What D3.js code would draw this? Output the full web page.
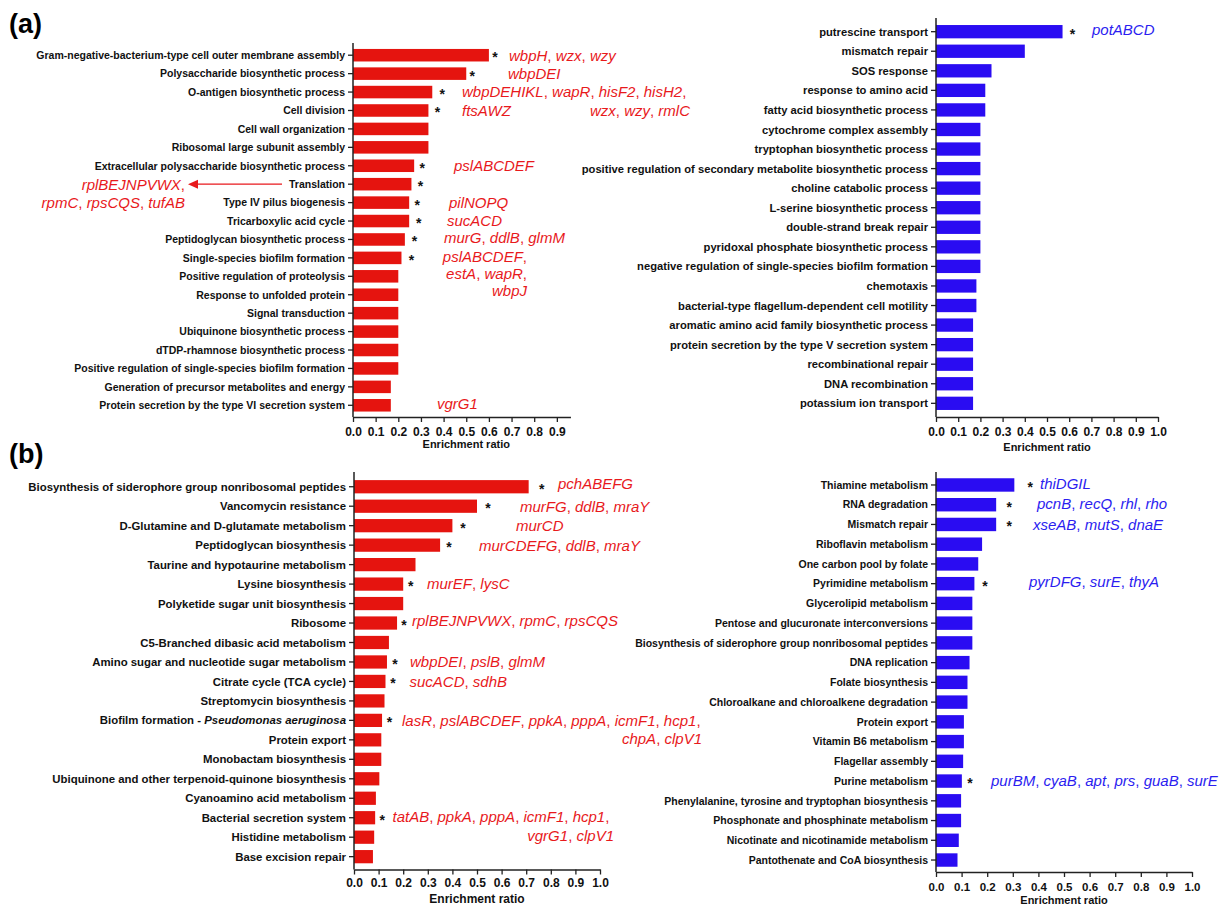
<!DOCTYPE html>
<html>
<head>
<meta charset="utf-8">
<script src="https://cdn.jsdelivr.net/npm/d3@7"></script>
<style>
  body { margin: 0; background: #fff; }
  svg { display: block; }
  .cat, .tick text, .xtitle { font-family: "Liberation Sans Narrow", "Arial Narrow", "Liberation Sans", Arial, sans-serif; font-weight: bold; fill: #111; }
  .gene { font-family: "Liberation Sans", Arial, sans-serif; font-size: 15px; }
  .star { font-family: "Liberation Sans", Arial, sans-serif; font-weight: bold; font-size: 14px; fill: #111; }
  .plab { font-family: "Liberation Sans", Arial, sans-serif; font-weight: bold; font-size: 27px; fill: #000; }
</style>
</head>
<body>
<svg id="chart" width="1230" height="907"></svg>
<script>
// ---- data ----

// (a) GO terms, red
var tlCats = ["Gram-negative-bacterium-type cell outer membrane assembly", "Polysaccharide biosynthetic process",
  "O-antigen biosynthetic process", "Cell division", "Cell wall organization", "Ribosomal large subunit assembly",
  "Extracellular polysaccharide biosynthetic process", "Translation", "Type IV pilus biogenesis",
  "Tricarboxylic acid cycle", "Peptidoglycan biosynthetic process", "Single-species biofilm formation",
  "Positive regulation of proteolysis", "Response to unfolded protein", "Signal transduction",
  "Ubiquinone biosynthetic process", "dTDP-rhamnose biosynthetic process",
  "Positive regulation of single-species biofilm formation", "Generation of precursor metabolites and energy",
  "Protein secretion by the type VI secretion system"];
var tlVals = [0.6, 0.5, 0.35, 0.333, 0.333, 0.333, 0.27, 0.258, 0.248, 0.248, 0.229, 0.214,
  0.2, 0.2, 0.2, 0.2, 0.2, 0.2, 0.167, 0.167];
var tlStar = [1,1,1,1,0,0,1,1,1,1,1,1,0,0,0,0,0,0,0,0];

// (a) GO terms, blue
var trCats = ["putrescine transport", "mismatch repair", "SOS response", "response to amino acid",
  "fatty acid biosynthetic process", "cytochrome complex assembly", "tryptophan biosynthetic process",
  "positive regulation of secondary metabolite biosynthetic process", "choline catabolic process",
  "L-serine biosynthetic process", "double-strand break repair", "pyridoxal phosphate biosynthetic process",
  "negative regulation of single-species biofilm formation", "chemotaxis",
  "bacterial-type flagellum-dependent cell motility", "aromatic amino acid family biosynthetic process",
  "protein secretion by the type V secretion system", "recombinational repair", "DNA recombination",
  "potassium ion transport"];
var trVals = [0.57, 0.4, 0.25, 0.222, 0.222, 0.2, 0.2, 0.2, 0.2, 0.2, 0.2, 0.2, 0.2,
  0.182, 0.182, 0.167, 0.167, 0.167, 0.167, 0.167];
var trStar = [1,0,0,0,0,0,0,0,0,0,0,0,0,0,0,0,0,0,0,0];

// (b) KEGG pathways, red
var blCats = ["Biosynthesis of siderophore group nonribosomal peptides", "Vancomycin resistance",
  "D-Glutamine and D-glutamate metabolism", "Peptidoglycan biosynthesis", "Taurine and hypotaurine metabolism",
  "Lysine biosynthesis", "Polyketide sugar unit biosynthesis", "Ribosome", "C5-Branched dibasic acid metabolism",
  "Amino sugar and nucleotide sugar metabolism", "Citrate cycle (TCA cycle)", "Streptomycin biosynthesis",
  "Biofilm formation - Pseudomonas aeruginosa", "Protein export", "Monobactam biosynthesis",
  "Ubiquinone and other terpenoid-quinone biosynthesis", "Cyanoamino acid metabolism",
  "Bacterial secretion system", "Histidine metabolism", "Base excision repair"];
var blVals = [0.71, 0.5, 0.4, 0.35, 0.25, 0.2, 0.2, 0.175, 0.142, 0.134, 0.128, 0.124, 0.114,
  0.111, 0.111, 0.103, 0.089, 0.086, 0.082, 0.077];
var blStar = [1,1,1,1,0,1,0,1,0,1,1,0,1,0,0,0,0,1,0,0];

// (b) KEGG pathways, blue
var brCats = ["Thiamine metabolism", "RNA degradation", "Mismatch repair", "Riboflavin metabolism",
  "One carbon pool by folate", "Pyrimidine metabolism", "Glycerolipid metabolism",
  "Pentose and glucuronate interconversions", "Biosynthesis of siderophore group nonribosomal peptides",
  "DNA replication", "Folate biosynthesis", "Chloroalkane and chloroalkene degradation", "Protein export",
  "Vitamin B6 metabolism", "Flagellar assembly", "Purine metabolism",
  "Phenylalanine, tyrosine and tryptophan biosynthesis", "Phosphonate and phosphinate metabolism",
  "Nicotinate and nicotinamide metabolism", "Pantothenate and CoA biosynthesis"];
var brVals = [0.306, 0.235, 0.235, 0.18, 0.165, 0.15, 0.142, 0.142, 0.142, 0.131, 0.123, 0.123,
  0.109, 0.109, 0.106, 0.101, 0.098, 0.098, 0.089, 0.084];
var brStar = [1,1,1,0,0,1,0,0,0,0,0,0,0,0,0,1,0,0,0,0];

// genes per row: [row, text]
var tlGenes = [[0, "wbpH, wzx, wzy"], [1, "wbpDEI"], [2, "wbpDEHIKL, wapR, hisF2, hisH2,"], [3, "wzx, wzy, rmlC"],
  [3, "ftsAWZ"], [6, "pslABCDEF"], [7, "rplBEJNPVWX,"], [8, "rpmC, rpsCQS, tufAB"], [8, "pilNOPQ"],
  [9, "sucACD"], [10, "murG, ddlB, glmM"], [11, "pslABCDEF,"], [11, "estA, wapR,"], [11, "wbpJ"], [19, "vgrG1"]];
var trGenes = [[0, "potABCD"]];
var blGenes = [[0, "pchABEFG"], [1, "murFG, ddlB, mraY"], [2, "murCD"], [3, "murCDEFG, ddlB, mraY"],
  [5, "murEF, lysC"], [7, "rplBEJNPVWX, rpmC, rpsCQS"], [9, "wbpDEI, pslB, glmM"], [10, "sucACD, sdhB"],
  [12, "lasR, pslABCDEF, ppkA, pppA, icmF1, hcp1,"], [13, "chpA, clpV1"],
  [17, "tatAB, ppkA, pppA, icmF1, hcp1,"], [18, "vgrG1, clpV1"]];
var brGenes = [[0, "thiDGIL"], [1, "pcnB, recQ, rhl, rho"], [2, "xseAB, mutS, dnaE"],
  [5, "pyrDFG, surE, thyA"], [15, "purBM, cyaB, apt, prs, guaB, surE"]];

// ---- layout ----
var red = "#e5140f", blue = "#2a0cf2";
var redText = "#e8191c", blueText = "#2b1df0";

// gap from bar end to asterisk centre, per row
var tlStarDx = [6,6,10,9,0,0,8,9,8,9.5,9.5,10,0,0,0,0,0,0,0,0];
var trStarDx = [10];
var blStarDx = [13,11,10.5,9,0,7.5,0,7,0,8,7.5,0,7.5,0,0,0,0,7,0,0];
var brStarDx = [16,13,13,0,0,10.5,0,0,0,0,0,0,0,0,0,8,0,0,0,0];

// gene label placement: [x, dy, anchor] matching the gene lists
var tlGenePos = [[509,0,"start"],[508,0,"start"],[462,0,"start"],[690,0,"end"],[462,0,"start"],[454,0,"start"],
  [185,0,"end"],[185,0,"end"],[449,0,"start"],[447,0,"start"],[444,-2,"start"],[527,-1,"end"],[527,15.5,"end"],
  [527,33,"end"],[437,-2,"start"]];
var trGenePos = [[1092,-2,"start"]];
var blGenePos = [[558,-3,"start"],[520,0,"start"],[516,0,"start"],[479,0,"start"],[427,0,"start"],[412,-2,"start"],
  [410,0,"start"],[409.5,0,"start"],[402,0,"start"],[702,-1,"end"],[392.5,-1,"start"],[614,-2,"end"]];
var brGenePos = [[1040,-1,"start"],[1037,-1,"start"],[1033,0,"start"],[1029,-2,"start"],[991,0,"start"]];

var svg = d3.select("#chart");

function geneText(g, str) {
  str.split(/(,\s*)/).forEach(function(part) {
    if (!part) return;
    var t = g.append("tspan").text(part);
    if (!/^,/.test(part)) t.attr("font-style", "italic");
  });
}

function drawPanel(p) {
  var g = svg.append("g");
  var x = d3.scaleLinear().domain([0, p.max]).range([p.x0, p.x0 + p.max * p.unit]);
  var y = d3.scaleBand().domain(p.cats).range([p.bandTop, p.bandBot]).paddingInner(0.32).paddingOuter(0.16);

  g.selectAll("rect.bar").data(p.vals).enter().append("rect")
    .attr("class", "bar")
    .attr("x", x(0))
    .attr("y", function(d, i) { return y(p.cats[i]); })
    .attr("width", function(d) { return x(d) - x(0); })
    .attr("height", y.bandwidth())
    .attr("fill", p.color);

  // category labels + ticks
  var mid = function(i) { return y(p.cats[i]) + y.bandwidth() / 2; };
  p.cats.forEach(function(c, i) {
    g.append("line").attr("x1", p.x0 - 5).attr("x2", p.x0).attr("y1", mid(i)).attr("y2", mid(i))
      .attr("stroke", "#222").attr("stroke-width", 1.3);
    var t = g.append("text").attr("class", "cat").attr("x", p.x0 - 8).attr("y", mid(i)).attr("dy", "0.36em")
      .attr("text-anchor", "end").style("font-size", p.font + "px");
    var m = c.match(/^(.*- )(Pseudomonas aeruginosa)$/);
    if (m) {
      t.append("tspan").text(m[1]);
      t.append("tspan").attr("font-style", "italic").text(m[2]);
    } else {
      t.text(c);
    }
  });

  // y axis line
  g.append("line").attr("x1", p.x0).attr("x2", p.x0).attr("y1", p.yTop).attr("y2", p.xAxisY)
    .attr("stroke", "#222").attr("stroke-width", 1.5);

  // x axis
  var ticks = d3.range(0, Math.round(p.tickMax * 10) + 1).map(function(k) { return k / 10; });
  var ax = g.append("g").attr("transform", "translate(0," + p.xAxisY + ")")
    .call(d3.axisBottom(x).tickValues(ticks).tickFormat(d3.format(".1f")).tickSize(5).tickSizeOuter(0));
  ax.select(".domain").attr("stroke", "#222").attr("stroke-width", 1.5);
  ax.selectAll(".tick line").attr("stroke", "#222").attr("stroke-width", 1.3);
  ax.selectAll(".tick text").attr("y", p.tickDy).attr("dy", null).style("font-size", p.tickFont + "px");

  g.append("text").attr("class", "xtitle").attr("x", x(p.titleAt)).attr("y", p.titleY)
    .attr("text-anchor", "middle").style("font-size", p.titleFont + "px").text("Enrichment ratio");

  // significance asterisks
  p.stars.forEach(function(s, i) {
    if (!s) return;
    g.append("text").attr("class", "star").attr("x", x(p.vals[i]) + p.starDx[i]).attr("y", mid(i) + 7)
      .attr("text-anchor", "middle").text("*");
  });

  // gene names
  p.genes.forEach(function(gn, k) {
    var pos = p.genePos[k];
    var t = g.append("text").attr("class", "gene").attr("x", pos[0]).attr("y", mid(gn[0]) + pos[1])
      .attr("dy", "0.36em").attr("text-anchor", pos[2]).attr("fill", p.textColor);
    geneText(t, gn[1]);
  });
  return { x: x, y: y, mid: mid };
}

var tl = drawPanel({ cats: tlCats, vals: tlVals, stars: tlStar, starDx: tlStarDx, genes: tlGenes, genePos: tlGenePos,
  color: red, textColor: redText, x0: 353, unit: 226.5, max: 0.96, tickMax: 0.9, yTop: 43, bandTop: 46, bandBot: 414.5,
  xAxisY: 417, tickDy: 18.5, titleAt: 0.5, titleY: 448, font: 10.5, tickFont: 12, titleFont: 11 });

drawPanel({ cats: trCats, vals: trVals, stars: trStar, starDx: trStarDx, genes: trGenes, genePos: trGenePos,
  color: blue, textColor: blueText, x0: 936, unit: 222, max: 1.0, tickMax: 1.0, yTop: 18, bandTop: 21.9, bandBot: 413.1,
  xAxisY: 417, tickDy: 18.5, titleAt: 0.5, titleY: 450.5, font: 11.2, tickFont: 12, titleFont: 11 });

drawPanel({ cats: blCats, vals: blVals, stars: blStar, starDx: blStarDx, genes: blGenes, genePos: blGenePos,
  color: red, textColor: redText, x0: 354, unit: 246, max: 1.0, tickMax: 1.0, yTop: 472, bandTop: 477, bandBot: 866.4,
  xAxisY: 869.5, tickDy: 17, titleAt: 0.5, titleY: 903, font: 11.4, tickFont: 12, titleFont: 12 });

drawPanel({ cats: brCats, vals: brVals, stars: brStar, starDx: brStarDx, genes: brGenes, genePos: brGenePos,
  color: blue, textColor: blueText, x0: 936, unit: 256, max: 1.0, tickMax: 1.0, yTop: 472, bandTop: 475.1, bandBot: 869.9,
  xAxisY: 872, tickDy: 19, titleAt: 0.5, titleY: 904, font: 10.5, tickFont: 11.5, titleFont: 11 });

// arrow from "Translation" to its gene list
var ay = tl.mid(7);
svg.append("line").attr("x1", 282).attr("x2", 196).attr("y1", ay).attr("y2", ay)
  .attr("stroke", redText).attr("stroke-width", 1.3);
svg.append("path").attr("d", "M188," + ay + "L198," + (ay - 4.5) + "L198," + (ay + 4.5) + "Z").attr("fill", redText);

// panel letters
svg.append("text").attr("class", "plab").attr("x", 9).attr("y", 33).text("(a)");
svg.append("text").attr("class", "plab").attr("x", 9).attr("y", 463).text("(b)");
</script>
</body>
</html>
